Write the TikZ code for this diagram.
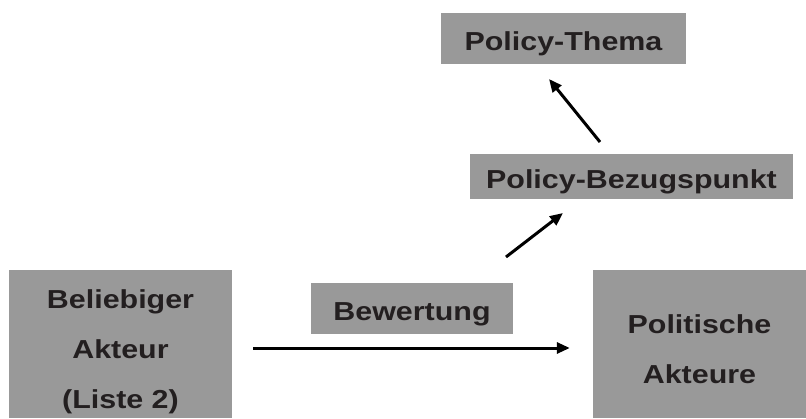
\documentclass[tikz,border=0pt]{standalone}
\usepackage{fontspec}
\setmainfont{Liberation Sans}[FakeStretch=1.17]
\usetikzlibrary{arrows.meta}
\definecolor{boxgray}{HTML}{999999}
\definecolor{txt}{HTML}{231F20}
\begin{document}
\begin{tikzpicture}[x=1pt,y=-1pt,
  box/.style={fill=boxgray, draw=none, inner sep=0pt},
  lbl/.style={inner sep=0pt, align=center, anchor=base,
    text=txt, font=\bfseries\fontsize{26}{50}\selectfont},
  arr/.style={line width=3pt, -{Triangle[length=13pt,width=11pt]}}]
\useasboundingbox (0,0) rectangle (806,418);
\node[box, minimum width=223pt, minimum height=148pt] (bel) at (120.5,344) {};
\node[box, minimum width=213pt, minimum height=148pt] (pol) at (699.5,344) {};
\node[box, minimum width=202pt, minimum height=51pt] (bew) at (412,308.5) {};
\node[box, minimum width=323pt, minimum height=45pt] (bez) at (631.5,176.5) {};
\node[box, minimum width=245pt, minimum height=51pt] (the) at (563.5,38.5) {};
\node[lbl] (belt) at ([yshift=-64pt]bel.center) {Beliebiger\\Akteur\\(Liste 2)};
\node[lbl] (polt) at ([yshift=-39pt]pol.center) {Politische\\Akteure};
\node[lbl] (bewt) at ([yshift=-11.5pt]bew.center) {Bewertung};
\node[lbl] (bezt) at ([yshift=-11.5pt]bez.center) {Policy-Bezugspunkt};
\node[lbl] (thet) at ([yshift=-11.5pt]the.center) {Policy-Thema};
\coordinate (a2s) at (506,257);
\coordinate (a2e) at (563,213);
\coordinate (a1s) at (600,142);
\coordinate (a1e) at (549,79);
\draw[arr, shorten <=21pt, shorten >=23pt] ([yshift=-4pt]bel.east) -- ([yshift=-4pt]pol.west);
\draw[arr] (a2s) -- (a2e);
\draw[arr] (a1s) -- (a1e);
\end{tikzpicture}
\end{document}
